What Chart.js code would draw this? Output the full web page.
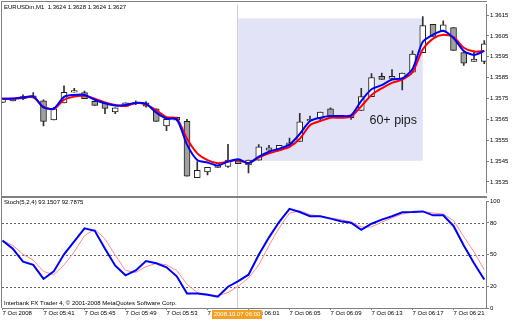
<!DOCTYPE html>
<html><head><meta charset="utf-8">
<script src="https://cdn.jsdelivr.net/npm/chart.js@4.4.0/dist/chart.umd.min.js"></script>
<style>
html,body{margin:0;padding:0;background:#fff;width:512px;height:320px;overflow:hidden}
canvas{position:absolute;left:0}
#main{top:0}
#stoch{top:197px}
</style></head><body>
<canvas id="main" width="512" height="197"></canvas>
<canvas id="stoch" width="512" height="123"></canvas>
<script>
// ---- categories (M1 bars, 7 Oct 2008) ----
const times = ['05:37','05:38','05:39','05:40','05:41','05:42','05:43','05:44','05:45','05:46','05:47','05:48',
  '05:49','05:50','05:51','05:52','05:53','05:54','05:55','05:56','05:57','05:58','05:59','06:00',
  '06:01','06:02','06:03','06:04','06:05','06:06','06:07','06:08','06:09','06:10','06:11','06:12',
  '06:13','06:14','06:15','06:16','06:17','06:18','06:19','06:20','06:21','06:22','06:23','06:24'];

// ---- candle values ----
const opens = [1.35731,1.35739,1.35749,1.35763,1.35739,1.35647,1.35729,1.35780,1.35778,1.35736,1.35729,1.35686,
  1.35713,1.35725,1.35729,1.35701,1.35619,1.35660,1.35640,1.35370,1.35398,1.35429,1.35424,1.35451,
  1.35432,1.35455,1.35502,1.35507,1.35525,1.35544,1.35642,1.35654,1.35701,1.35658,1.35658,1.35693,
  1.35759,1.35856,1.35846,1.35846,1.35876,1.35970,1.36106,1.36072,1.36090,1.35970,1.35928,1.35928];
const highs = [1.35752,1.35749,1.35767,1.35778,1.35744,1.35708,1.35811,1.35799,1.35786,1.35739,1.35729,1.35705,
  1.35729,1.35739,1.35735,1.35701,1.35650,1.35661,1.35650,1.35448,1.35420,1.35429,1.35530,1.35451,
  1.35455,1.35529,1.35525,1.35525,1.35560,1.35679,1.35666,1.35685,1.35705,1.35666,1.35669,1.35799,
  1.35869,1.35872,1.35888,1.35872,1.35978,1.36142,1.36106,1.36122,1.36090,1.35970,1.35978,1.36028];
const lows = [1.35731,1.35739,1.35744,1.35752,1.35619,1.35647,1.35729,1.35780,1.35749,1.35717,1.35677,1.35677,
  1.35713,1.35721,1.35708,1.35640,1.35596,1.35642,1.35378,1.35370,1.35384,1.35420,1.35420,1.35438,
  1.35393,1.35455,1.35502,1.35507,1.35525,1.35544,1.35642,1.35642,1.35666,1.35658,1.35650,1.35693,
  1.35759,1.35841,1.35846,1.35791,1.35876,1.35970,1.36048,1.36072,1.35981,1.35908,1.35928,1.35917];
const closes = [1.35749,1.35749,1.35759,1.35753,1.35640,1.35701,1.35780,1.35788,1.35749,1.35717,1.35702,1.35705,
  1.35729,1.35731,1.35713,1.35640,1.35650,1.35646,1.35378,1.35406,1.35420,1.35420,1.35455,1.35438,
  1.35455,1.35518,1.35513,1.35525,1.35538,1.35638,1.35650,1.35685,1.35666,1.35666,1.35669,1.35759,
  1.35850,1.35841,1.35856,1.35872,1.35963,1.36100,1.36048,1.36103,1.35981,1.35919,1.35939,1.36012];

// ---- moving averages ----
const maFast = [1.35749,1.35750,1.35755,1.35760,1.35707,1.35702,1.35758,1.35767,1.35767,1.35744,1.35727,1.35716,
  1.35719,1.35729,1.35724,1.35682,1.35654,1.35650,1.35529,1.35455,1.35443,1.35429,1.35448,1.35459,
  1.35440,1.35471,1.35495,1.35510,1.35529,1.35580,1.35642,1.35658,1.35666,1.35666,1.35669,1.35739,
  1.35794,1.35814,1.35841,1.35846,1.35892,1.36022,1.36056,1.36075,1.36040,1.35978,1.35959,1.35978];
const maSlow = [1.35749,1.35749,1.35753,1.35757,1.35711,1.35699,1.35744,1.35759,1.35763,1.35749,1.35731,1.35719,
  1.35714,1.35729,1.35721,1.35693,1.35661,1.35655,1.35557,1.35487,1.35455,1.35440,1.35448,1.35455,
  1.35440,1.35467,1.35487,1.35502,1.35518,1.35557,1.35622,1.35642,1.35658,1.35658,1.35663,1.35713,
  1.35767,1.35799,1.35825,1.35841,1.35876,1.35986,1.36037,1.36056,1.36044,1.35993,1.35975,1.35978];

// ---- stochastic ----
const stochMain = [63.4,55.7,43.5,40.5,27.3,34.4,50.5,62.7,74.9,72.5,55.7,39.8,30.7,35.3,44.1,42.0,38.3,29.8,
  13.6,13.6,12.4,10.6,20.0,25.2,31.3,50.0,66.4,81.0,93.2,90.2,86.2,86.2,84.0,81.6,80.1,73.4,79.2,83.1,
  86.2,89.9,90.2,90.8,87.1,87.1,77.1,58.8,42.0,26.8];
const stochSignal = [63.4,58.8,50.5,45.0,34.4,31.3,40.5,52.7,68.0,74.0,64.8,49.6,35.3,33.4,38.9,42.0,40.5,35.3,
  22.2,14.5,13.0,11.5,14.5,20.6,28.2,40.5,58.8,75.5,89.2,91.3,87.7,86.2,84.7,83.1,80.7,76.2,76.2,80.7,
  84.7,88.3,90.2,90.8,89.2,88.3,82.2,67.0,52.7,35.9];

// ---- ticks ----
const xTickBars = [0,4,8,12,16,20,24,28,32,36,40,44];
const xTickLabels = ['7 Oct 2008','7 Oct 05:41','7 Oct 05:45','7 Oct 05:49','7 Oct 05:53','7 Oct 05:57',
  '7 Oct 06:01','7 Oct 06:05','7 Oct 06:09','7 Oct 06:13','7 Oct 06:17','7 Oct 06:21'];
const priceTicks = [1.3535,1.3545,1.3555,1.3565,1.3575,1.3585,1.3595,1.3605,1.3615];
const stochTicks = [0,20,50,80,100];
const stochLevels = [20,50,80];

// ---- annotations ----
const zoneStart = 23, zoneEnd = 41, zoneHigh = 1.36134, zoneLow = 1.35451;
const markerBar = 23, markerLabel = '2008.10.07 06:00';
const noteText = '60+ pips', noteBar = 35.8, notePrice = 1.35644;
const mainTitle = 'EURUSDm,M1  1.3624 1.3628 1.3624 1.3627';
const stochTitle = 'Stoch(5,2,4) 93.1507 92.7875';
const copyright = 'Interbank FX Trader 4, \u00a9 2001-2008 MetaQuotes Software Corp.';

const FONT = "'Liberation Sans', Arial, sans-serif";
const small = {family: FONT, size: 6};
const xMin = -0.049, xMax = 47.17;
const pts = arr => arr.map((v, i) => ({x: i, y: v}));

const mainDecor = {
  id: 'mainDecor',
  beforeDatasetsDraw(chart) {
    const {ctx, chartArea: a, scales: {x, y}} = chart;
    ctx.save();
    const x1 = x.getPixelForValue(zoneStart), x2 = x.getPixelForValue(zoneEnd);
    const y1 = y.getPixelForValue(zoneHigh), y2 = y.getPixelForValue(zoneLow);
    ctx.fillStyle = '#e3e3f8';
    ctx.fillRect(x1, y1, x2 - x1, y2 - y1);
    const mx = Math.floor(x.getPixelForValue(markerBar)) - 0.5;
    ctx.strokeStyle = '#f6c4a0'; ctx.lineWidth = 1;
    ctx.beginPath(); ctx.moveTo(mx, a.top); ctx.lineTo(mx, chart.height); ctx.stroke();
    ctx.restore();
  },
  afterDraw(chart) {
    const {ctx, scales: {x, y}} = chart;
    ctx.save();
    ctx.fillStyle = '#1a1a1a';
    ctx.font = "12.5px " + FONT;
    ctx.textBaseline = 'middle'; ctx.textAlign = 'left';
    ctx.fillText(noteText, x.getPixelForValue(noteBar), y.getPixelForValue(notePrice));
    ctx.font = "6px " + FONT;
    ctx.fillStyle = '#000';
    ctx.fillText(mainTitle, 4, 7);
    ctx.strokeStyle = '#808080'; ctx.lineWidth = 1;
    ctx.beginPath();
    ctx.moveTo(1, 1.5); ctx.lineTo(487, 1.5);
    ctx.moveTo(1.5, 1); ctx.lineTo(1.5, 197);
    ctx.moveTo(1, 196.5); ctx.lineTo(487, 196.5);
    ctx.stroke();
    ctx.restore();
  }
};

new Chart(document.getElementById('main'), {
  type: 'bar',
  data: {
    datasets: [
      {type: 'line', label: 'MA fast', data: pts(maFast), borderColor: '#0000ff', borderWidth: 2,
       pointRadius: 0, tension: 0.25, order: 1},
      {type: 'line', label: 'MA slow', data: pts(maSlow), borderColor: '#ff0000', borderWidth: 2,
       pointRadius: 0, tension: 0.25, order: 2},
      {label: 'body', data: opens.map((o, i) => ({x: i, y: [o, closes[i]]})),
       backgroundColor: opens.map((o, i) => closes[i] >= o ? '#ffffff' : '#a0a0a0'),
       borderColor: '#202020', borderWidth: 1, borderSkipped: false,
       barThickness: 6, grouped: false, order: 3},
      {label: 'wick', data: lows.map((l, i) => ({x: i, y: [l, highs[i]]})),
       backgroundColor: '#303030', borderWidth: 0, barThickness: 1, grouped: false, order: 4}
    ]
  },
  options: {
    responsive: false, animation: false,
    layout: {padding: {top: 2, left: 2, right: 0, bottom: 2}},
    plugins: {legend: {display: false}, tooltip: {enabled: false}},
    scales: {
      x: {type: 'linear', min: xMin, max: xMax, offset: false, display: false, grid: {offset: false}},
      y: {type: 'linear', position: 'right', min: 1.3530, max: 1.3620,
          afterBuildTicks: s => { s.ticks = priceTicks.map(v => ({value: v})); },
          afterFit: s => { s.width = 26; },
          grid: {drawOnChartArea: false, tickLength: 3, color: '#808080'},
          border: {color: '#808080'},
          ticks: {font: small, color: '#000', padding: 1, callback: v => v.toFixed(4)}}
    }
  },
  plugins: [mainDecor]
});

const stochDecor = {
  id: 'stochDecor',
  beforeDatasetsDraw(chart) {
    const {ctx, chartArea: a, scales: {x, y}} = chart;
    ctx.save();
    ctx.strokeStyle = '#606060'; ctx.lineWidth = 1; ctx.setLineDash([2, 2]);
    ctx.beginPath();
    stochLevels.forEach(v => {
      const yy = Math.round(y.getPixelForValue(v)) + 0.5;
      ctx.moveTo(a.left, yy); ctx.lineTo(a.right, yy);
    });
    ctx.stroke();
    ctx.setLineDash([]);
    const mx = Math.floor(x.getPixelForValue(markerBar)) - 0.5;
    ctx.strokeStyle = '#f6c4a0';
    ctx.beginPath(); ctx.moveTo(mx, 0); ctx.lineTo(mx, a.bottom); ctx.stroke();
    ctx.restore();
  },
  afterDraw(chart) {
    const {ctx, chartArea: a, scales: {x}} = chart;
    ctx.save();
    ctx.font = "6px " + FONT; ctx.fillStyle = '#000';
    ctx.textBaseline = 'middle'; ctx.textAlign = 'left';
    ctx.fillText(stochTitle, 4, 5.5);
    ctx.fillText(copyright, 4, 106.5);
    const cx = Math.floor(x.getPixelForValue(markerBar)) - 1;
    ctx.fillStyle = '#f5a020';
    ctx.fillRect(cx - 25, a.bottom + 2, 50, 9);
    ctx.fillStyle = '#ffffff'; ctx.textAlign = 'center';
    ctx.fillText(markerLabel, cx, a.bottom + 6.8);
    ctx.strokeStyle = '#808080'; ctx.lineWidth = 1;
    ctx.beginPath();
    ctx.moveTo(1, 0.5); ctx.lineTo(487, 0.5);
    ctx.moveTo(1.5, 0); ctx.lineTo(1.5, a.bottom);
    ctx.stroke();
    ctx.restore();
  }
};

new Chart(document.getElementById('stoch'), {
  type: 'line',
  data: {
    datasets: [
      {label: 'Main', data: pts(stochMain), borderColor: '#0000ff', borderWidth: 2, pointRadius: 0, tension: 0},
      {label: 'Signal', data: pts(stochSignal), borderColor: '#ff8c8c', borderWidth: 1, pointRadius: 0, tension: 0}
    ]
  },
  options: {
    responsive: false, animation: false,
    layout: {padding: {top: 1, left: 2, right: 0, bottom: 0}},
    plugins: {legend: {display: false}, tooltip: {enabled: false}},
    scales: {
      x: {type: 'linear', min: xMin, max: xMax, offset: false,
          afterBuildTicks: s => { s.ticks = xTickBars.map(v => ({value: v})); },
          afterFit: s => { s.height = 12; },
          grid: {drawOnChartArea: false, tickLength: 2, color: '#808080', offset: false},
          border: {color: '#808080'},
          ticks: {font: small, color: '#000', padding: 0, align: 'start', maxRotation: 0, autoSkip: false,
                  callback: (v, i) => xTickLabels[i]}},
      y: {type: 'linear', position: 'right', min: 0, max: 100,
          afterBuildTicks: s => { s.ticks = stochTicks.map(v => ({value: v})); },
          afterFit: s => { s.width = 26; },
          grid: {drawOnChartArea: false, tickLength: 3, color: '#808080'},
          border: {color: '#808080'},
          ticks: {font: small, color: '#000', padding: 1}}
    }
  },
  plugins: [stochDecor]
});
</script>
</body></html>
